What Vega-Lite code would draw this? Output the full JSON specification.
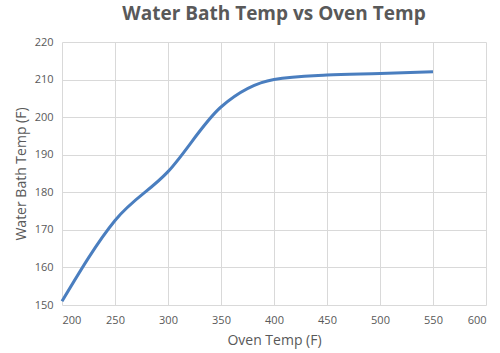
{
  "$schema": "https://vega.github.io/schema/vega-lite/v6.json",
  "width": 424,
  "height": 263,
  "autosize": "none",
  "padding": {"left": 62, "top": 42, "right": 14, "bottom": 48},
  "background": "white",
  "title": {
    "text": "Water Bath Temp vs Oven Temp",
    "font": "Open Sans",
    "fontSize": 19,
    "fontWeight": "bold",
    "color": "#595959",
    "anchor": "middle",
    "offset": 12
  },
  "data": {
    "values": [
      {"oven": 200, "bath": 151},
      {"oven": 250, "bath": 172.5},
      {"oven": 300, "bath": 185.5},
      {"oven": 350, "bath": 202.7},
      {"oven": 400, "bath": 210},
      {"oven": 450, "bath": 211.2},
      {"oven": 500, "bath": 211.6},
      {"oven": 550, "bath": 212.1}
    ]
  },
  "mark": {"type": "line", "interpolate": "monotone", "color": "#4A7EBF", "strokeWidth": 3},
  "encoding": {
    "x": {
      "field": "oven", "type": "quantitative",
      "scale": {"domain": [200, 600], "nice": false, "zero": false},
      "axis": {"values": [200,250,300,350,400,450,500,550,600], "title": "Oven Temp (F)"}
    },
    "y": {
      "field": "bath", "type": "quantitative",
      "scale": {"domain": [150, 220], "nice": false, "zero": false},
      "axis": {"values": [150,160,170,180,190,200,210,220], "title": "Water Bath Temp (F)"}
    }
  },
  "config": {
    "view": {"stroke": null},
    "axis": {
      "domain": false,
      "ticks": false,
      "grid": true,
      "gridColor": "#d9d9d9",
      "gridWidth": 1,
      "labelFont": "Open Sans",
      "labelFontSize": 11,
      "labelColor": "#595959",
      "titleFont": "Open Sans",
      "titleFontSize": 14,
      "titleFontWeight": "normal",
      "titleColor": "#595959",
      "labelPadding": 9
    },
    "axisX": {"titleY": 28},
    "axisY": {"titleX": -34}
  }
}
